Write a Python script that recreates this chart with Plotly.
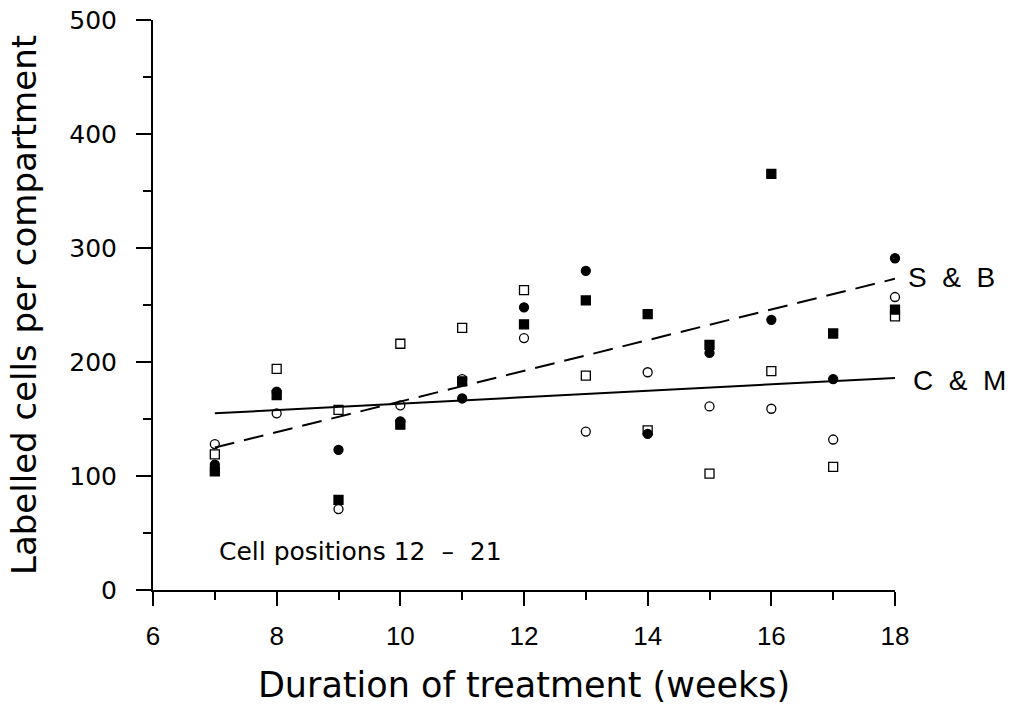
import plotly.graph_objects as go

weeks = [7, 8, 9, 10, 11, 12, 13, 14, 15, 16, 17, 18]

open_circle = [128, 155, 71, 162, 185, 221, 139, 191, 161, 159, 132, 257]
open_square = [119, 194, 158, 216, 230, 263, 188, 140, 102, 192, 108, 240]
filled_circle = [110, 174, 123, 148, 168, 248, 280, 137, 208, 237, 185, 291]
filled_square = [104, 171, 79, 145, 183, 233, 254, 242, 215, 365, 225, 246]

fit_x = [7, 18]
cm_fit = [155, 186]
sb_fit = [125, 273]

y_ticks = [0, 100, 200, 300, 400, 500]
x_ticks = [6, 8, 10, 12, 14, 16, 18]

FONT = "Liberation Sans"
NARROW = "Liberation Sans Narrow, Liberation Sans"

fig = go.Figure()

def add_markers(y, symbol, name):
    fig.add_trace(go.Scatter(
        x=weeks, y=y, mode="markers", name=name,
        marker=dict(symbol=symbol, size=9, color="black",
                    line=dict(color="black", width=1.3)),
        cliponaxis=False,
    ))

add_markers(open_circle, "circle-open", "open circles")
add_markers(open_square, "square-open", "open squares")
add_markers(filled_circle, "circle", "filled circles")
add_markers(filled_square, "square", "filled squares")

fig.add_trace(go.Scatter(x=fit_x, y=cm_fit, mode="lines", name="C & M",
                         line=dict(color="black", width=2)))
fig.add_trace(go.Scatter(x=fit_x, y=sb_fit, mode="lines", name="S & B",
                         line=dict(color="black", width=2, dash="20px,10px")))

nb = "\u00a0"
fig.add_annotation(xref="paper", yref="y", x=1.015, y=274, text=f"S{nb}{nb}&{nb}{nb}B",
                   showarrow=False, xanchor="left", yanchor="middle",
                   font=dict(family=FONT, size=28, color="black"))
fig.add_annotation(xref="paper", yref="y", x=1.022, y=184, text=f"C{nb}{nb}&{nb}{nb}M",
                   showarrow=False, xanchor="left", yanchor="middle",
                   font=dict(family=FONT, size=28, color="black"))
fig.add_annotation(x=7.03, y=34, text=f"Cell positions 12{nb}{nb}–{nb}{nb}21", showarrow=False,
                   xanchor="left", yanchor="middle",
                   font=dict(family="DejaVu Sans", size=25, color="black"))

fig.update_layout(
    width=1011, height=705,
    margin=dict(l=153, r=116, t=20, b=115),
    paper_bgcolor="white", plot_bgcolor="white",
    showlegend=False,
    font=dict(family=FONT, color="black"),
)

fig.update_xaxes(
    range=[6, 18], tickmode="array", tickvals=x_ticks, ticktext=[str(v) for v in x_ticks],
    automargin=False,
    showline=True, linecolor="black", linewidth=2,
    ticks="outside", ticklen=14, tickwidth=1.5, tickcolor="black",
    minor=dict(dtick=1, tick0=6, ticks="outside", ticklen=8, tickwidth=1.5, tickcolor="black"),
    showgrid=False, zeroline=False,
    ticklabelstandoff=8,
    tickfont=dict(family=NARROW, size=26),
    title=dict(text="Duration of treatment (weeks)",
               font=dict(family="DejaVu Sans", size=35), standoff=30),
)
fig.update_yaxes(
    range=[0, 500], tickmode="array", tickvals=y_ticks, ticktext=[str(v) for v in y_ticks],
    automargin=False,
    showline=True, linecolor="black", linewidth=2,
    ticks="outside", ticklen=15, tickwidth=1.5, tickcolor="black",
    minor=dict(dtick=50, tick0=0, ticks="outside", ticklen=8, tickwidth=1.5, tickcolor="black"),
    showgrid=False, zeroline=False,
    ticklabelstandoff=14,
    tickfont=dict(family="DejaVu Sans", size=25),
    title=dict(text="Labelled cells per compartment",
               font=dict(family="DejaVu Sans", size=34), standoff=22),
)

fig.write_html("out.html")
